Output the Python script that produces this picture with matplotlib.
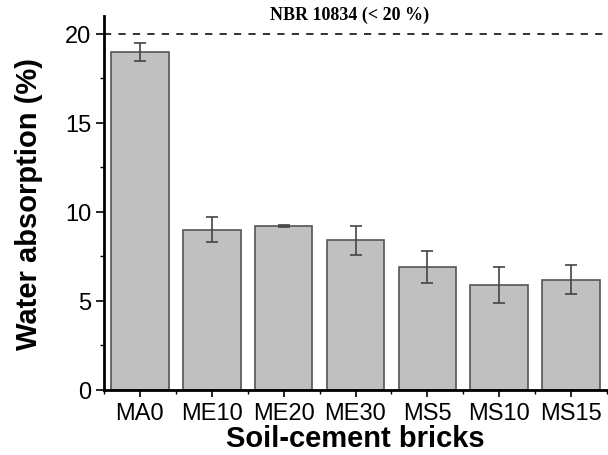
import matplotlib
matplotlib.use("Agg")
import matplotlib.pyplot as plt
from matplotlib.ticker import MultipleLocator, FixedLocator
import numpy as np

categories = ["MA0", "ME10", "ME20", "ME30", "MS5", "MS10", "MS15"]
values = [19.0, 9.0, 9.2, 8.4, 6.9, 5.9, 6.2]
errors = [0.5, 0.7, 0.05, 0.8, 0.9, 1.0, 0.8]
limit_value = 20
limit_label = "NBR 10834 (< 20 %)"

plt.rcParams['font.family'] = ['Liberation Sans', 'DejaVu Sans']

fig = plt.figure(figsize=(6.08, 4.56), dpi=100)
ax = fig.add_axes([104/608, 1-391/456, 503/608, 374/456])

x = np.arange(len(categories))
ax.bar(x, values, width=0.8, color="#c0c0c0", edgecolor="#555555", linewidth=1.2,
       yerr=errors, capsize=4, error_kw=dict(ecolor="#444444", elinewidth=1.2, capthick=1.2),
       zorder=2)
ax.axhline(limit_value, color="#222222", linestyle=(0, (4, 4)), linewidth=1.3, zorder=1)
ax.text(2.92, 21.1, limit_label, ha="center", va="center", fontsize=13,
        fontweight="bold", family=["Liberation Serif", "DejaVu Serif"], clip_on=False)

ax.set_xlim(-0.5, 6.5)
ax.set_ylim(0, 21)
ax.set_xticks(x)
ax.set_xticklabels(categories, fontsize=17)
ax.xaxis.set_minor_locator(FixedLocator(np.arange(-0.5, 6.6, 1.0)))
ax.yaxis.set_major_locator(MultipleLocator(5))
ax.yaxis.set_minor_locator(MultipleLocator(2.5))
ax.tick_params(axis="y", which="major", labelsize=17, length=6, width=1.2, direction="out", pad=3)
ax.tick_params(axis="y", which="minor", length=3, width=1.0, direction="out")
ax.tick_params(axis="x", which="major", length=5, width=1.2, direction="out", pad=4)
ax.tick_params(axis="x", which="minor", length=3, width=1.0, direction="out")

for s in ["top", "right"]:
    ax.spines[s].set_visible(False)
for s in ["left", "bottom"]:
    ax.spines[s].set_linewidth(2)

ax.set_xlabel("Soil-cement bricks", fontsize=21, fontweight="bold", labelpad=0)
ax.set_ylabel("Water absorption (%)", fontsize=21, fontweight="bold", labelpad=16)

fig.savefig("out.png", dpi=100)
